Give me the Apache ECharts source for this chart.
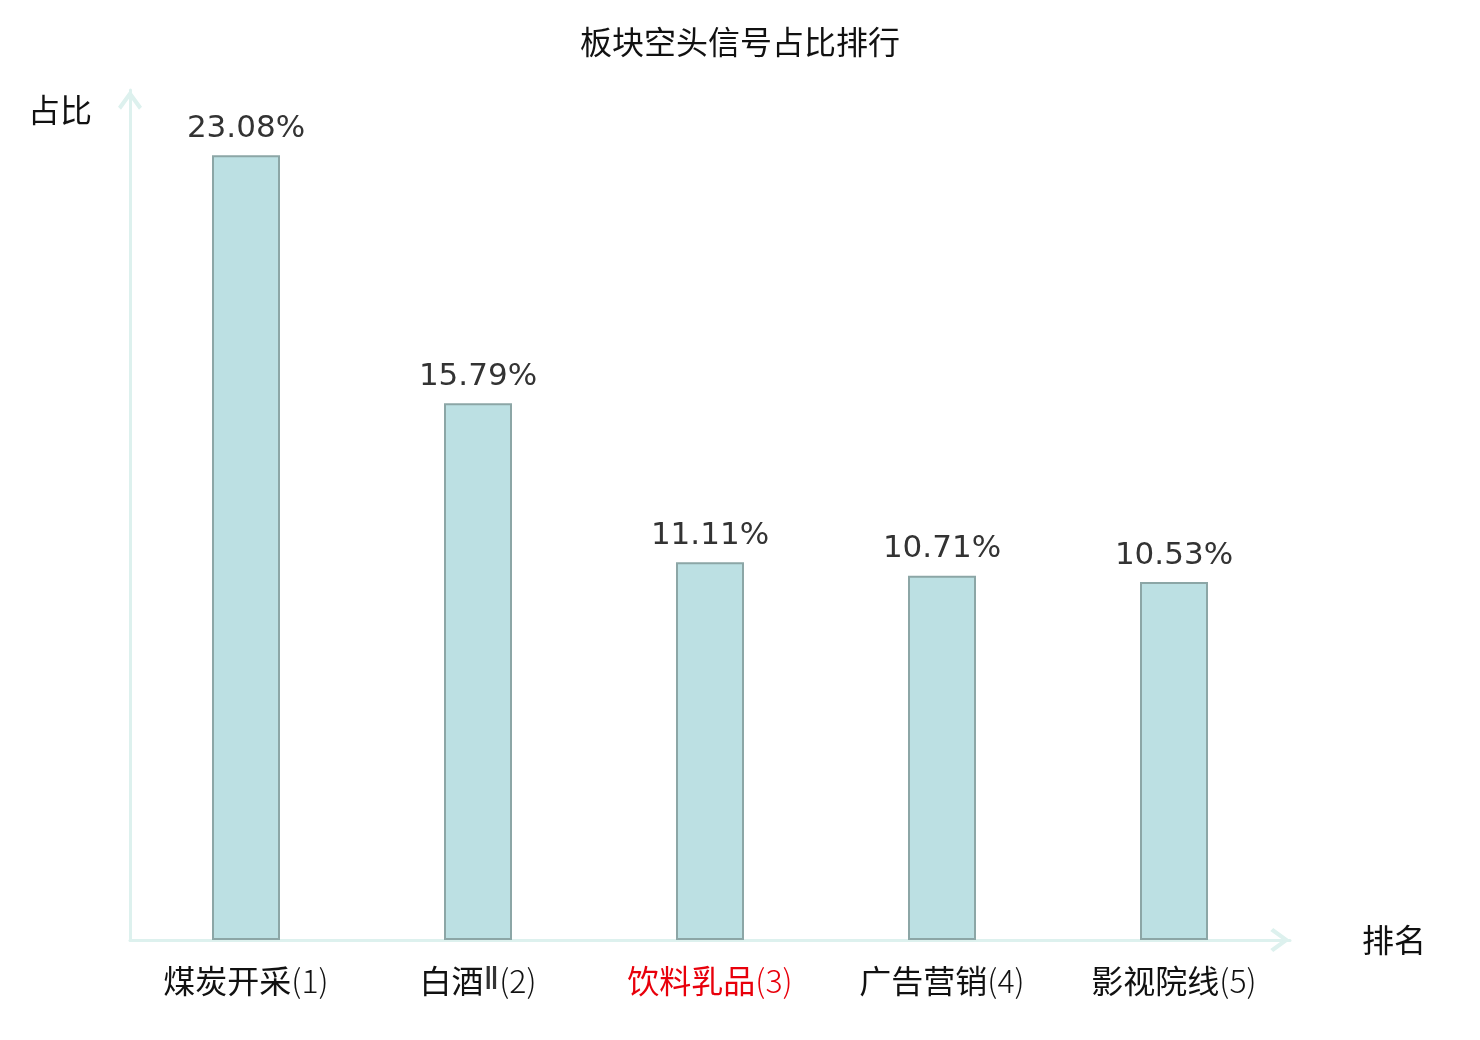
<!DOCTYPE html>
<html lang="zh">
<head>
    <meta charset="UTF-8">
    <title>板块空头信号占比排行</title>
    <script src="https://cdn.jsdelivr.net/npm/echarts@6/dist/echarts.min.js"></script>
    <style>
        html, body { margin: 0; padding: 0; background: #fff; }
        #main { width: 1480px; height: 1040px; }
    </style>
</head>
<body>
<div id="main"></div>
<script>
    // 数据
    var categories = ['煤炭开采(1)', '白酒Ⅱ(2)', '饮料乳品(3)', '广告营销(4)', '影视院线(5)'];
    var ratios = [23.08, 15.79, 11.11, 10.71, 10.53];
    var highlightIndex = 2;

    var axisColor = '#ddf1ee';
    // 开口箭头（朝上，轴会自动旋转）
    var arrowPath = 'path://M12,0 L24,16.5 L21,19.5 L12,7 L3,19.5 L0,16.5 Z';

    // 拆成：中文 / 罗马数字 / 括号序号
    function splitLabel(value) {
        var m = value.match(/^([\u4e00-\u9fff]+)([\u2160-\u217f]*)(.*)$/);
        return m ? [m[1], m[2], m[3]] : [value, '', ''];
    }

    function lightStyle(color) {
        return {
            fontFamily: 'Noto Sans CJK SC',
            fontSize: 32,
            fontWeight: 300,
            color: color
        };
    }

    var myChart = echarts.init(document.getElementById('main'));

    var option = {
        backgroundColor: '#fff',
        animation: false,
        title: {
            text: '板块空头信号占比排行',
            left: 'center',
            top: 21,
            textStyle: {
                fontFamily: 'Noto Sans CJK SC',
                fontSize: 32,
                fontWeight: 'normal',
                color: '#111'
            }
        },
        grid: {
            left: 130,
            right: 190,
            top: 90,
            bottom: 100
        },
        xAxis: {
            type: 'category',
            data: categories,
            name: '排名',
            nameLocation: 'end',
            nameGap: 72,
            nameTextStyle: {
                fontFamily: 'Noto Sans CJK SC',
                fontSize: 32,
                color: '#111',
                verticalAlign: 'middle'
            },
            axisLine: {
                show: true,
                symbol: ['none', arrowPath],
                symbolSize: [24, 20],
                symbolOffset: [0, -10],
                lineStyle: { color: axisColor, width: 3 }
            },
            axisTick: { show: false },
            axisLabel: {
                interval: 0,
                hideOverlap: false,
                margin: 25,
                fontFamily: 'Noto Sans CJK SC',
                fontSize: 32,
                formatter: function (value, index) {
                    var parts = splitLabel(value);
                    var hl = categories.indexOf(value) === highlightIndex;
                    var s = hl ? 'r' : '';
                    var out = '{c' + s + '|' + parts[0] + '}';
                    if (parts[1]) out += '{n' + s + '|' + parts[1] + '}';
                    if (parts[2]) out += '{l' + s + '|' + parts[2] + '}';
                    return out;
                },
                rich: {
                    c: { fontFamily: 'Noto Sans CJK SC', fontSize: 32, color: '#111' },
                    cr: { fontFamily: 'Noto Sans CJK SC', fontSize: 32, color: '#e8000b' },
                    n: { fontFamily: 'DejaVu Sans', fontSize: 32, color: '#333' },
                    nr: { fontFamily: 'DejaVu Sans', fontSize: 32, color: '#e8000b' },
                    l: lightStyle('#111'),
                    lr: lightStyle('#e8000b')
                }
            }
        },
        yAxis: {
            type: 'value',
            min: 0,
            max: 25,
            name: '占比',
            nameLocation: 'end',
            nameGap: -20,
            nameTextStyle: {
                fontFamily: 'Noto Sans CJK SC',
                fontSize: 32,
                color: '#111',
                align: 'right',
                verticalAlign: 'middle',
                padding: [0, 38, 0, 0]
            },
            axisLine: {
                show: true,
                symbol: ['none', arrowPath],
                symbolSize: [24, 20],
                symbolOffset: [0, -10],
                lineStyle: { color: axisColor, width: 3 }
            },
            axisTick: { show: false },
            axisLabel: { show: false },
            splitLine: { show: false }
        },
        series: [
            {
                type: 'bar',
                data: ratios,
                barWidth: 68,
                itemStyle: {
                    color: '#bce0e3',
                    borderColor: '#8ca6a6',
                    borderWidth: 2
                },
                label: {
                    show: true,
                    position: 'top',
                    distance: 11,
                    fontFamily: 'DejaVu Sans',
                    fontSize: 31,
                    color: '#333',
                    formatter: function (p) {
                        return p.value.toFixed(2) + '%';
                    }
                }
            }
        ]
    };

    myChart.setOption(option);
</script>
</body>
</html>
